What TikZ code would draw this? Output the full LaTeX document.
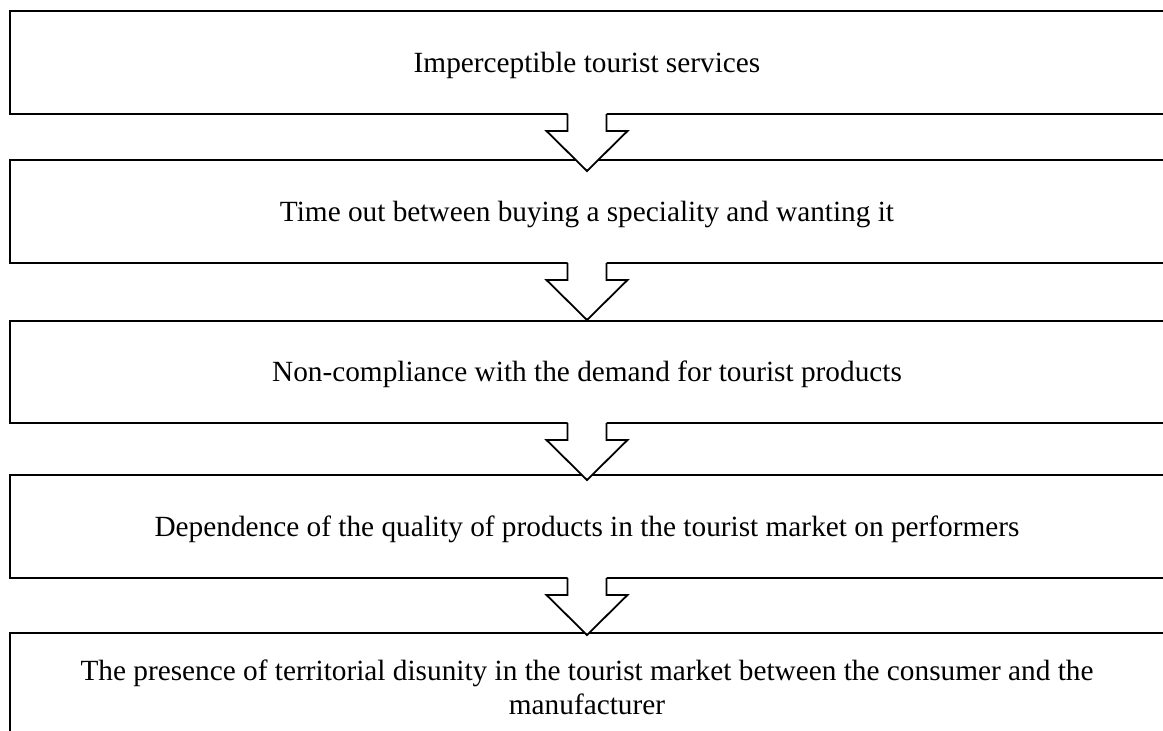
\documentclass[tikz,border=0pt]{standalone}
\usepackage{fontspec}
\setmainfont{Liberation Serif}
\begin{document}
\begin{tikzpicture}[x=1pt,y=-1pt,
  boxbase/.style={draw=black, line width=2pt, minimum width=1154pt, inner sep=0pt,
    font=\fontsize{29.3}{33.7}\selectfont},
  box/.style={boxbase, text height=22pt, text depth=3pt},
  arrowline/.style={draw=black, line width=1.8pt, line join=miter},
  pics/downarrow/.style={code={
    \fill[white] (-19.5,-2) -- (-19.5,16) -- (-40.5,16) -- (0,56) -- (40.5,16) -- (19.5,16) -- (19.5,-2) -- cycle;
    \draw[arrowline] (-19.5,-1) -- (-19.5,16) -- (-40.5,16) -- (0,56) -- (40.5,16) -- (19.5,16) -- (19.5,-1);
  }}]
\useasboundingbox (0,0) rectangle (1163,731);
\clip (0,0) rectangle (1163,731);
\node[box, minimum height=103pt] (b1) at (587,62.5) {Imperceptible tourist services};
\node[box, minimum height=103pt] (b2) at (587,211.5) {Time out between buying a speciality and wanting it};
\node[box, minimum height=102pt] (b3) at (587,372) {Non-compliance with the demand for tourist products};
\node[box, minimum height=103pt] (b4) at (587,526.5) {Dependence of the quality of products in the tourist market on performers};
\node[boxbase, minimum height=108pt, align=center] (b5) at (587,687) {The presence of territorial disunity in the tourist market between the consumer and the\\manufacturer};
\pic at (b1.south) {downarrow};
\pic at (b2.south) {downarrow};
\pic at (b3.south) {downarrow};
\pic at (b4.south) {downarrow};
\end{tikzpicture}
\end{document}
